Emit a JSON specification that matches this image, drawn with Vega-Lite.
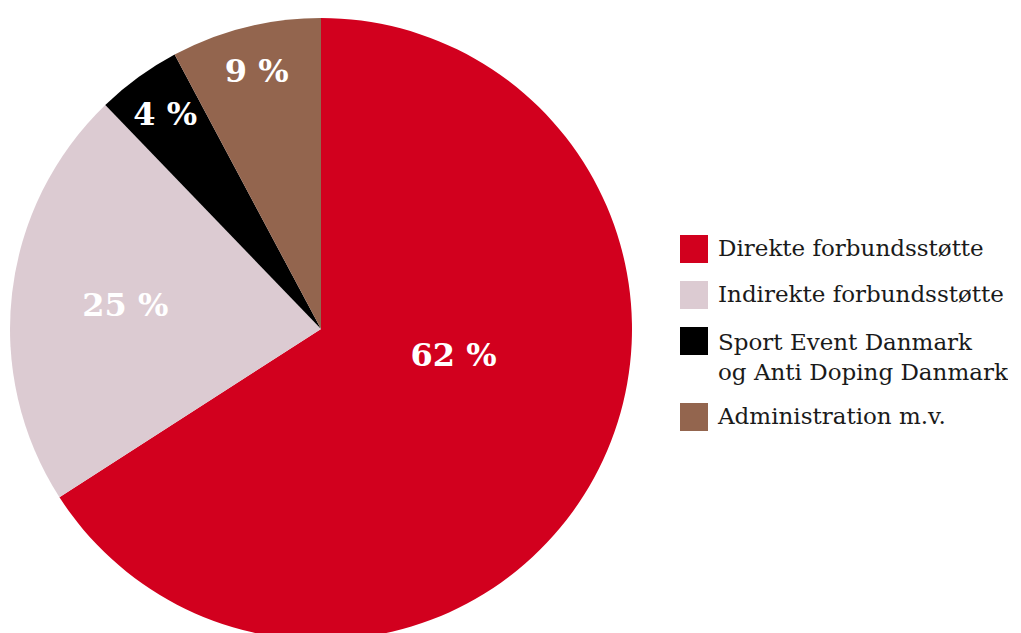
{
  "$schema": "https://vega.github.io/schema/vega-lite/v6.json",
  "width": 642,
  "height": 658,
  "padding": 0,
  "autosize": {"type": "pad"},
  "background": "white",
  "config": {"view": {"stroke": null}},
  "data": {
    "values": [
      {"category": "Direkte forbundsstøtte", "share": 65.9, "label": "62 %", "rank": 1},
      {"category": "Indirekte forbundsstøtte", "share": 21.9, "label": "25 %", "rank": 2},
      {"category": "Sport Event Danmark og Anti Doping Danmark", "share": 4.4, "label": "4 %", "rank": 3},
      {"category": "Administration m.v.", "share": 7.8, "label": "9 %", "rank": 4}
    ]
  },
  "encoding": {
    "theta": {"field": "share", "type": "quantitative", "stack": true},
    "order": {"field": "rank", "type": "quantitative"}
  },
  "layer": [
    {
      "mark": {"type": "arc", "outerRadius": 311, "strokeWidth": 0},
      "encoding": {
        "color": {
          "field": "category",
          "type": "nominal",
          "scale": {
            "domain": ["Direkte forbundsstøtte", "Indirekte forbundsstøtte", "Sport Event Danmark og Anti Doping Danmark", "Administration m.v."],
            "range": ["#d2001e", "#dccbd2", "#000000", "#93654e"]
          },
          "legend": {
            "title": null,
            "orient": "none",
            "legendX": 680,
            "legendY": 235,
            "symbolType": "square",
            "symbolSize": 784,
            "symbolStrokeWidth": 0,
            "labelFont": "DejaVu Serif",
            "labelFontSize": 23,
            "labelColor": "#1a1a1a",
            "labelOffset": 10,
            "labelLimit": 400,
            "rowPadding": 18,
            "labelExpr": "datum.label == 'Sport Event Danmark og Anti Doping Danmark' ? ['Sport Event Danmark', 'og Anti Doping Danmark'] : datum.label",
            "encode": {
              "labels": {
                "update": {
                  "lineHeight": {"value": 30},
                  "dy": {"signal": "datum.label == 'Sport Event Danmark og Anti Doping Danmark' ? 2 : 0"}
                }
              }
            }
          }
        }
      }
    },
    {
      "mark": {
        "type": "text",
        "font": "DejaVu Serif",
        "fontWeight": "bold",
        "fontSize": 32,
        "color": "white",
        "radius": {"expr": "datum.rank == 1 ? 151 : datum.rank == 2 ? 197 : 265"},
        "dy": {"expr": "datum.rank == 1 ? -45 : 0"}
      },
      "encoding": {
        "text": {"field": "label", "type": "nominal"}
      }
    }
  ]
}
